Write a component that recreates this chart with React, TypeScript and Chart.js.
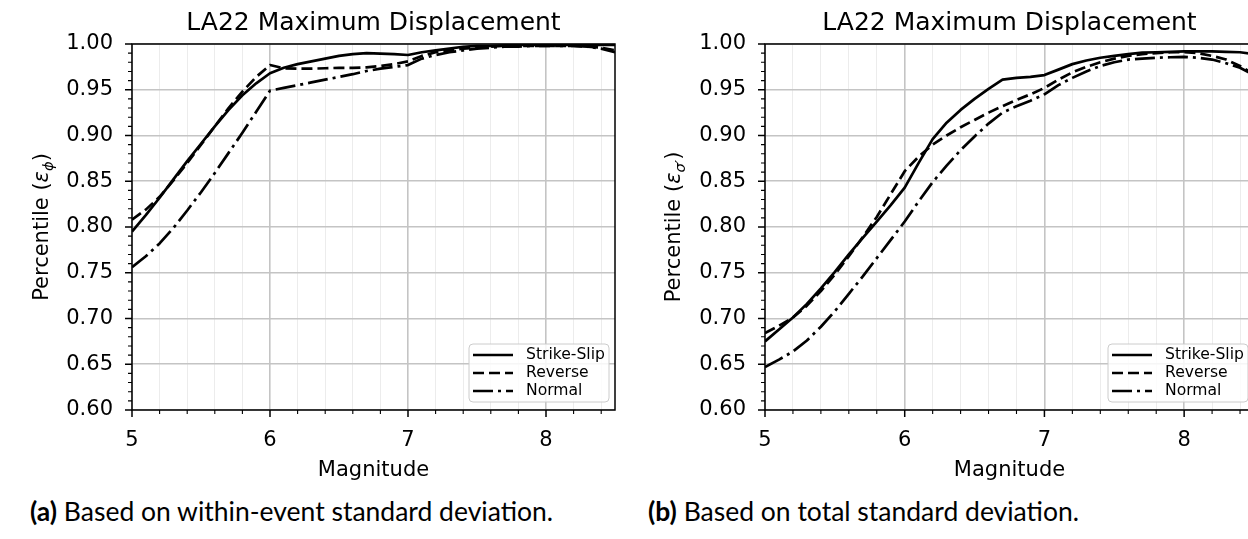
import React, { useEffect, useRef } from 'react';
import { Chart, registerables } from 'chart.js';

Chart.register(...registerables);

// ---------------- data ----------------
const magnitudes = [
  5.0, 5.1, 5.2, 5.3, 5.4, 5.5, 5.6, 5.7, 5.8, 5.9,
  6.0, 6.1, 6.2, 6.3, 6.4, 6.5, 6.6, 6.7, 6.8, 6.9,
  7.0, 7.1, 7.2, 7.3, 7.4, 7.5, 7.6, 7.7, 7.8, 7.9,
  8.0, 8.1, 8.2, 8.3, 8.4, 8.5,
];

// (a) within-event standard deviation
const strikeSlipWithin = [
  0.795, 0.813, 0.832, 0.852, 0.872, 0.891, 0.910, 0.928, 0.944, 0.957,
  0.968, 0.974, 0.978, 0.981, 0.984, 0.987, 0.989, 0.990, 0.9895, 0.989,
  0.988, 0.991, 0.993, 0.995, 0.997, 0.998, 0.998, 0.9985, 0.999, 0.999,
  0.999, 0.999, 0.999, 0.999, 0.999, 0.999,
];
const reverseWithin = [
  0.808, 0.819, 0.833, 0.851, 0.870, 0.890, 0.910, 0.930, 0.948, 0.964,
  0.977, 0.9735, 0.973, 0.973, 0.9735, 0.974, 0.974, 0.9745, 0.976, 0.978,
  0.981, 0.987, 0.991, 0.993, 0.995, 0.996, 0.997, 0.998, 0.998, 0.998,
  0.998, 0.998, 0.998, 0.997, 0.996, 0.993,
];
const normalWithin = [
  0.756, 0.768, 0.782, 0.799, 0.818, 0.838, 0.859, 0.881, 0.903, 0.926,
  0.949, 0.952, 0.955, 0.958, 0.961, 0.964, 0.967, 0.9705, 0.973, 0.975,
  0.977, 0.984, 0.988, 0.991, 0.993, 0.995, 0.996, 0.997, 0.997, 0.998,
  0.998, 0.998, 0.998, 0.997, 0.995, 0.991,
];

// (b) total standard deviation
const strikeSlipTotal = [
  0.675, 0.688, 0.701, 0.716, 0.733, 0.751, 0.770, 0.788, 0.806, 0.824,
  0.843, 0.870, 0.896, 0.914, 0.928, 0.940, 0.951, 0.961, 0.963, 0.964,
  0.966, 0.972, 0.978, 0.982, 0.985, 0.987, 0.989, 0.9905, 0.991, 0.9915,
  0.992, 0.992, 0.992, 0.9915, 0.991, 0.989,
];
const reverseTotal = [
  0.684, 0.692, 0.701, 0.714, 0.730, 0.748, 0.768, 0.789, 0.811, 0.836,
  0.861, 0.877, 0.890, 0.900, 0.909, 0.917, 0.925, 0.932, 0.939, 0.945,
  0.952, 0.961, 0.969, 0.975, 0.980, 0.984, 0.987, 0.989, 0.990, 0.991,
  0.991, 0.990, 0.987, 0.983, 0.976, 0.967,
];
const normalTotal = [
  0.647, 0.655, 0.664, 0.676, 0.691, 0.708, 0.727, 0.746, 0.766, 0.786,
  0.806, 0.828, 0.849, 0.867, 0.884, 0.899, 0.913, 0.925, 0.932, 0.938,
  0.945, 0.955, 0.963, 0.970, 0.976, 0.980, 0.983, 0.984, 0.985, 0.9855,
  0.986, 0.985, 0.983, 0.979, 0.974, 0.966,
];

const seriesLabels = ['Strike-Slip', 'Reverse', 'Normal'];
const xMajorTicks = [5, 6, 7, 8];
const yMajorTicks = [0.6, 0.65, 0.7, 0.75, 0.8, 0.85, 0.9, 0.95, 1.0];
const xMinorStep = 0.2;
const yMinorStep = 0.01;
const xRange = [5, 8.5];
const yRange = [0.6, 1.0];
const chartTitle = 'LA22 Maximum Displacement';
const xAxisTitle = 'Magnitude';
const captionA = 'Based on within-event standard deviation.';
const captionB = 'Based on total standard deviation.';

// ---------------- styling ----------------
const FONT = '"DejaVu Sans", sans-serif';
const LINE_W = 2.7;
const dashStyles: number[][] = [[], [11, 5], [20, 5, 3, 5]];

function buildMinor(lo: number, hi: number, step: number, majors: number[]) {
  const out: number[] = [];
  const n = Math.round((hi - lo) / step);
  for (let i = 0; i <= n; i++) {
    const v = +(lo + i * step).toFixed(4);
    if (!majors.some((m) => Math.abs(m - v) < 1e-6)) out.push(v);
  }
  return out;
}
const xMinorTicks = buildMinor(xRange[0], 8.4, xMinorStep, xMajorTicks);
const yMinorTicks = buildMinor(yRange[0], yRange[1], yMinorStep, yMajorTicks);

type Part = { t: string; italic?: boolean; sub?: boolean };

interface PanelCfg {
  key: string;
  canvasW: number;
  canvasH: number;
  plotLeft: number;
  plotRight: number;
  plotTop: number;
  plotBottom: number;
  yLabelX: number;
  yLabelParts: Part[];
  series: number[][];
}

const isMajor = (v: number, majors: number[]) => majors.some((m) => Math.abs(m - v) < 1e-6);

function decorPlugin(cfg: PanelCfg) {
  return {
    id: 'decor_' + cfg.key,
    afterDraw(chart: any) {
      const ctx: CanvasRenderingContext2D = chart.ctx;
      const { left, right, top, bottom } = chart.chartArea;
      const xs = chart.scales.x;
      const ys = chart.scales.y;
      ctx.save();
      // frame
      ctx.strokeStyle = '#000';
      ctx.lineWidth = 1.5;
      ctx.strokeRect(left, top, right - left, bottom - top);
      // tick marks
      ctx.lineWidth = 1.5;
      ctx.beginPath();
      for (const v of yMajorTicks) {
        const py = ys.getPixelForValue(v);
        ctx.moveTo(left - 7, py);
        ctx.lineTo(left, py);
      }
      for (const v of xMajorTicks) {
        const px = xs.getPixelForValue(v);
        ctx.moveTo(px, bottom);
        ctx.lineTo(px, bottom + 7);
      }
      ctx.stroke();
      ctx.lineWidth = 1.1;
      ctx.beginPath();
      for (const v of yMinorTicks) {
        const py = ys.getPixelForValue(v);
        ctx.moveTo(left - 4, py);
        ctx.lineTo(left, py);
      }
      for (const v of xMinorTicks) {
        const px = xs.getPixelForValue(v);
        ctx.moveTo(px, bottom);
        ctx.lineTo(px, bottom + 4);
      }
      ctx.stroke();

      // title
      ctx.fillStyle = '#000';
      ctx.textAlign = 'center';
      ctx.textBaseline = 'alphabetic';
      ctx.font = `25px ${FONT}`;
      ctx.fillText(chartTitle, (left + right) / 2, 30);
      // x title
      ctx.font = `21px ${FONT}`;
      ctx.fillText(xAxisTitle, (left + right) / 2, 476);

      // y title (mathtext-like)
      ctx.save();
      ctx.translate(cfg.yLabelX, (top + bottom) / 2);
      ctx.rotate(-Math.PI / 2);
      const fontFor = (p: Part) => `${p.italic ? 'italic ' : ''}${p.sub ? 14.7 : 21}px ${FONT}`;
      const widths = cfg.yLabelParts.map((p) => {
        ctx.font = fontFor(p);
        return ctx.measureText(p.t).width;
      });
      const total = widths.reduce((a, b) => a + b, 0);
      let cx = -total / 2;
      ctx.textAlign = 'left';
      cfg.yLabelParts.forEach((p, i) => {
        ctx.font = fontFor(p);
        ctx.fillText(p.t, cx, p.sub ? 4.7 : 0);
        cx += widths[i];
      });
      ctx.restore();

      // legend
      const bw = 140;
      const bh = 58;
      const bx = right - 6 - bw;
      const by = bottom - 8 - bh;
      ctx.beginPath();
      (ctx as any).roundRect(bx, by, bw, bh, 4);
      ctx.fillStyle = 'rgba(255,255,255,0.85)';
      ctx.fill();
      ctx.strokeStyle = '#cccccc';
      ctx.lineWidth = 1;
      ctx.stroke();
      chart.data.datasets.forEach((ds: any, i: number) => {
        const ry = by + 11 + i * 18;
        ctx.beginPath();
        ctx.setLineDash(ds.borderDash || []);
        ctx.strokeStyle = '#000';
        ctx.lineWidth = LINE_W;
        ctx.moveTo(bx + 4, ry);
        ctx.lineTo(bx + 44, ry);
        ctx.stroke();
        ctx.setLineDash([]);
        ctx.fillStyle = '#000';
        ctx.font = `15.6px ${FONT}`;
        ctx.textAlign = 'left';
        ctx.textBaseline = 'middle';
        ctx.fillText(ds.label, bx + 57, ry);
      });
      ctx.restore();
    },
  };
}

function Panel({ cfg, style }: { cfg: PanelCfg; style: React.CSSProperties }) {
  const ref = useRef<HTMLCanvasElement | null>(null);
  useEffect(() => {
    if (!ref.current) return;
    const allX = [...xMajorTicks, ...xMinorTicks].sort((a, b) => a - b);
    const chart = new Chart(ref.current, {
      type: 'line',
      data: {
        datasets: cfg.series.map((vals, i) => ({
          label: seriesLabels[i],
          data: magnitudes.map((m, j) => ({ x: m, y: vals[j] })),
          borderColor: '#000',
          backgroundColor: '#000',
          borderWidth: LINE_W,
          borderDash: dashStyles[i],
          borderCapStyle: 'butt',
          borderJoinStyle: 'round',
          pointRadius: 0,
          tension: 0,
          fill: false,
        })),
      },
      options: {
        animation: false,
        responsive: false,
        devicePixelRatio: 1,
        layout: {
          padding: {
            left: 0,
            top: cfg.plotTop,
            right: cfg.canvasW - cfg.plotRight,
            bottom: 0,
          },
        },
        plugins: {
          legend: { display: false },
          title: { display: false },
          tooltip: { enabled: false },
        },
        scales: {
          x: {
            type: 'linear',
            min: xRange[0],
            max: xRange[1],
            afterBuildTicks: (scale: any) => {
              scale.ticks = allX.map((v) => ({ value: v }));
            },
            afterFit: (scale: any) => {
              scale.height = cfg.canvasH - cfg.plotBottom;
            },
            grid: {
              drawTicks: false,
              color: (c: any) => (c.tick && isMajor(c.tick.value, xMajorTicks) ? '#c4c4c4' : '#ececec'),
              lineWidth: (c: any) => (c.tick && isMajor(c.tick.value, xMajorTicks) ? 1.6 : 1),
            },
            border: { display: false },
            ticks: {
              autoSkip: false,
              maxRotation: 0,
              padding: 17.5,
              color: '#000',
              font: { family: FONT, size: 21 },
              callback: (v: any) => (isMajor(Number(v), xMajorTicks) ? String(Math.round(Number(v))) : ''),
            },
          },
          y: {
            type: 'linear',
            min: yRange[0],
            max: yRange[1],
            afterBuildTicks: (scale: any) => {
              scale.ticks = yMajorTicks.map((v) => ({ value: v }));
            },
            afterFit: (scale: any) => {
              scale.width = cfg.plotLeft;
            },
            grid: {
              drawTicks: false,
              color: '#c4c4c4',
              lineWidth: 1.6,
            },
            border: { display: false },
            ticks: {
              padding: 19,
              color: '#000',
              font: { family: FONT, size: 21 },
              callback: (v: any) => Number(v).toFixed(2),
            },
          },
        },
      } as any,
      plugins: [decorPlugin(cfg)],
    });
    return () => chart.destroy();
  }, [cfg]);
  return (
    <canvas
      ref={ref}
      width={cfg.canvasW}
      height={cfg.canvasH}
      style={{ position: 'absolute', width: cfg.canvasW, height: cfg.canvasH, ...style }}
    />
  );
}

const panelA: PanelCfg = {
  key: 'a',
  canvasW: 624,
  canvasH: 490,
  plotLeft: 132,
  plotRight: 615,
  plotTop: 44,
  plotBottom: 410,
  yLabelX: 48,
  yLabelParts: [
    { t: 'Percentile (' },
    { t: 'ε', italic: true },
    { t: 'ϕ', italic: true, sub: true },
    { t: ')' },
  ],
  series: [strikeSlipWithin, reverseWithin, normalWithin],
};

const panelB: PanelCfg = {
  key: 'b',
  canvasW: 640,
  canvasH: 490,
  plotLeft: 141,
  plotRight: 630,
  plotTop: 44,
  plotBottom: 410,
  yLabelX: 56,
  yLabelParts: [
    { t: 'Percentile (' },
    { t: 'ε', italic: true },
    { t: 'σ′', italic: true, sub: true },
    { t: ')' },
  ],
  series: [strikeSlipTotal, reverseTotal, normalTotal],
};

const captionStyle: React.CSSProperties = {
  position: 'absolute',
  top: 498,
  fontFamily: 'Lato, "Open Sans", sans-serif',
  fontSize: 26.5,
  lineHeight: 1,
  whiteSpace: 'nowrap',
  color: '#000',
};

export default function App() {
  return (
    <div
      style={{
        position: 'fixed',
        left: 0,
        top: 0,
        width: 1248,
        height: 539,
        overflow: 'hidden',
        background: '#fff',
      }}
    >
      <Panel cfg={panelA} style={{ left: 0, top: 0 }} />
      <Panel cfg={panelB} style={{ left: 624, top: 0 }} />
      <div style={{ ...captionStyle, left: 30 }}>
        <b>(a)</b> {captionA}
      </div>
      <div style={{ ...captionStyle, left: 648 }}>
        <b>(b)</b> {captionB}
      </div>
    </div>
  );
}
